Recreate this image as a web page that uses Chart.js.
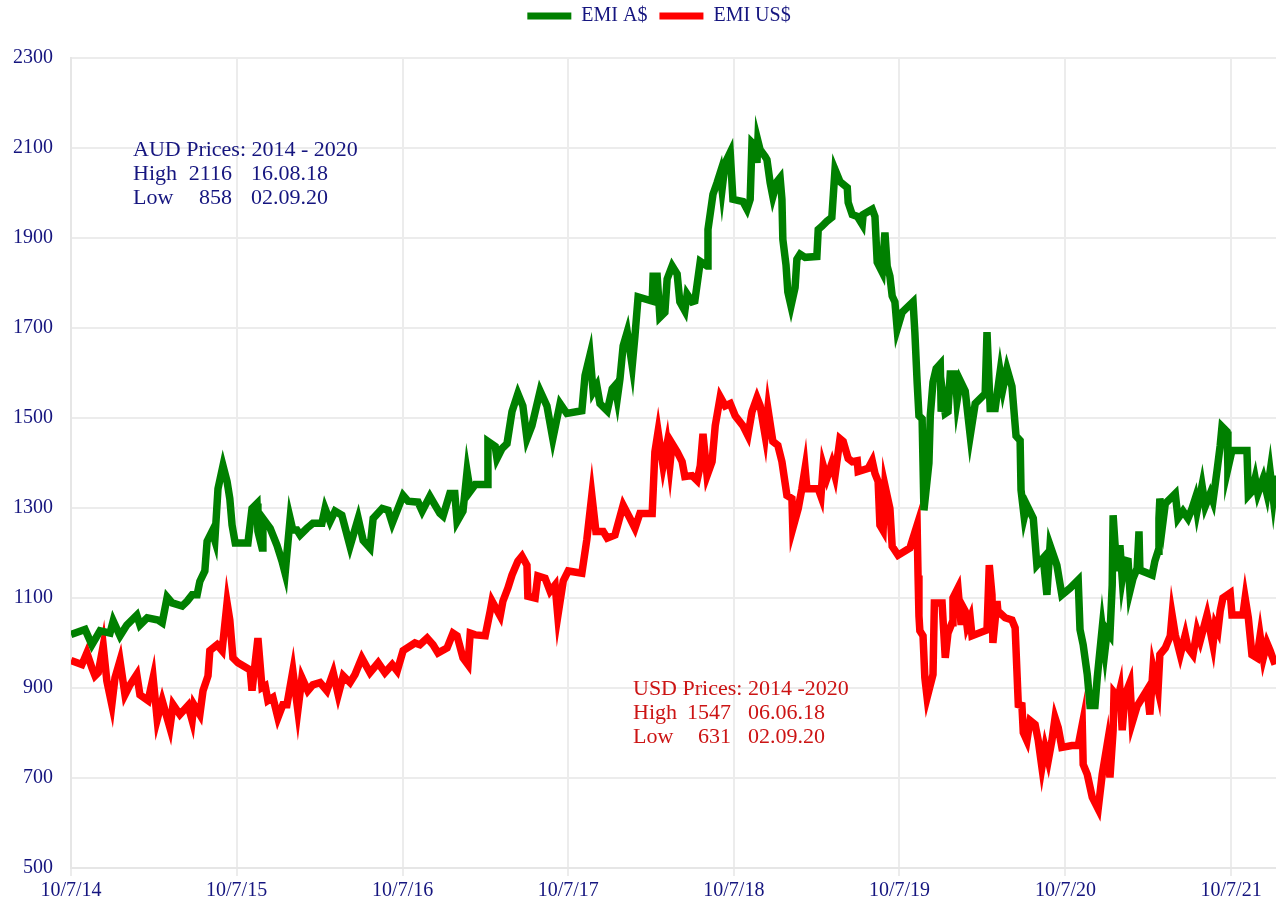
<!DOCTYPE html>
<html>
<head>
<meta charset="utf-8">
<script src="https://cdn.jsdelivr.net/npm/chart.js@4.4.1/dist/chart.umd.min.js"></script>
<style>
html,body{margin:0;padding:0;background:#fff;}
#wrap{width:1276px;height:908px;position:relative;}
</style>
</head>
<body>
<div id="wrap"><canvas id="c"></canvas></div>
<script>
// x values: days since 10 July 2014
const tickDays = [0, 365, 731, 1096, 1461, 1826, 2192, 2557];
const tickLabels = ['10/7/14', '10/7/15', '10/7/16', '10/7/17', '10/7/18', '10/7/19', '10/7/20', '10/7/21'];
const lastDay = 2656;

const audDays = [0,31,46,64,86,93,108,123,145,152,168,192,201,212,223,245,256,267,278,284,295,300,311,317,324,335,344,350,355,362,390,399,410,412,421,423,439,454,465,472,483,489,498,505,520,533,553,560,571,582,597,615,633,644,659,666,686,699,708,732,743,765,774,791,813,820,835,846,851,864,873,880,891,917,919,935,939,950,961,972,985,996,1005,1016,1034,1049,1062,1078,1093,1126,1133,1144,1151,1159,1166,1182,1193,1199,1204,1210,1217,1226,1237,1243,1250,1281,1283,1292,1298,1309,1314,1325,1336,1342,1353,1358,1369,1375,1387,1402,1404,1415,1424,1431,1435,1442,1453,1459,1481,1490,1497,1501,1508,1512,1514,1519,1530,1534,1541,1547,1556,1563,1567,1569,1576,1580,1587,1596,1600,1607,1618,1644,1647,1655,1666,1677,1684,1695,1711,1713,1722,1733,1744,1746,1766,1772,1777,1788,1794,1799,1805,1810,1816,1821,1832,1856,1860,1865,1869,1876,1880,1891,1894,1900,1907,1916,1918,1922,1927,1933,1938,1949,1953,1960,1971,1982,1993,2015,2019,2026,2037,2048,2054,2063,2074,2083,2092,2094,2101,2107,2121,2129,2143,2151,2158,2173,2184,2202,2220,2224,2231,2240,2246,2257,2262,2273,2279,2284,2290,2295,2297,2301,2306,2312,2317,2323,2330,2334,2341,2350,2354,2356,2383,2389,2396,2398,2400,2407,2412,2423,2434,2440,2451,2462,2471,2478,2482,2493,2500,2511,2517,2526,2533,2537,2548,2550,2559,2592,2595,2603,2610,2616,2628,2636,2643,2650,2656];
const audPrices = [1019,1030,996,1027,1022,1049,1016,1040,1062,1040,1056,1051,1045,1102,1089,1082,1093,1107,1107,1137,1160,1226,1248,1228,1343,1394,1359,1321,1262,1222,1222,1299,1310,1248,1211,1277,1255,1217,1182,1155,1277,1251,1251,1240,1255,1266,1266,1299,1270,1293,1284,1215,1277,1228,1211,1277,1299,1295,1266,1328,1315,1313,1293,1326,1288,1282,1332,1332,1270,1293,1381,1337,1352,1352,1448,1437,1410,1432,1443,1514,1554,1527,1454,1483,1560,1527,1454,1532,1510,1516,1594,1640,1558,1572,1532,1516,1565,1572,1543,1587,1660,1691,1616,1682,1769,1760,1815,1815,1724,1735,1809,1838,1820,1758,1738,1775,1758,1760,1848,1838,1919,1997,2023,2045,2008,2067,2090,1986,1981,1964,1986,2112,2105,2067,2116,2096,2081,2074,2023,1992,2025,2034,1986,1897,1840,1780,1749,1790,1853,1864,1857,1859,1919,1926,1937,1946,2052,2025,2012,1979,1952,1948,1930,1952,1964,1948,1846,1824,1912,1837,1815,1771,1758,1698,1735,1758,1690,1580,1505,1498,1295,1400,1505,1580,1610,1620,1514,1549,1510,1514,1598,1598,1538,1583,1560,1461,1532,1554,1691,1521,1521,1603,1565,1609,1570,1460,1450,1340,1280,1306,1277,1173,1189,1107,1217,1173,1107,1122,1140,1030,996,930,861,861,923,1034,983,1027,1018,1129,1284,1222,1160,1217,1144,1184,1182,1115,1144,1166,1248,1162,1151,1182,1204,1277,1321,1270,1310,1321,1332,1277,1293,1277,1299,1321,1293,1350,1304,1332,1315,1383,1439,1481,1470,1388,1428,1428,1328,1337,1366,1332,1366,1332,1381,1321,1372];

const usdDays = [0,24,35,46,53,60,71,79,90,97,108,119,130,145,152,170,181,190,201,218,225,240,258,267,271,284,291,302,306,322,333,344,350,357,368,395,399,412,421,428,434,445,456,467,476,489,500,509,522,533,549,564,578,589,600,615,626,641,659,677,692,708,719,732,758,769,785,798,809,829,842,851,864,875,880,891,913,924,928,946,952,963,972,985,994,1005,1007,1023,1029,1045,1056,1067,1073,1085,1096,1126,1137,1148,1157,1173,1182,1199,1217,1232,1243,1254,1281,1287,1294,1305,1314,1320,1325,1336,1347,1353,1369,1380,1387,1393,1402,1413,1420,1431,1442,1453,1464,1481,1492,1501,1512,1519,1530,1536,1547,1558,1567,1578,1589,1591,1603,1611,1618,1622,1647,1653,1658,1666,1677,1684,1695,1702,1713,1722,1733,1735,1757,1766,1772,1779,1783,1790,1794,1805,1810,1823,1849,1865,1867,1869,1871,1878,1882,1887,1900,1903,1920,1927,1933,1942,1944,1955,1962,1964,1971,1975,1982,1986,2019,2024,2030,2032,2041,2043,2059,2074,2081,2088,2096,2099,2107,2114,2125,2132,2140,2147,2154,2162,2169,2176,2184,2206,2220,2229,2231,2240,2251,2264,2273,2284,2290,2297,2299,2308,2312,2317,2323,2334,2339,2350,2372,2378,2385,2396,2400,2412,2423,2427,2434,2445,2456,2462,2473,2482,2489,2504,2511,2517,2522,2528,2533,2539,2555,2559,2583,2588,2595,2603,2614,2621,2628,2636,2643,2654];
const usdPrices = [961,952,978,945,927,934,994,916,863,923,961,885,907,930,885,872,923,830,872,812,863,841,861,828,863,841,894,927,983,996,983,1089,1051,967,956,940,894,1011,901,905,872,879,834,863,863,938,850,923,894,907,912,894,934,885,927,912,930,967,934,956,934,952,938,983,1000,996,1011,996,978,989,1022,1016,967,952,1022,1018,1016,1071,1093,1060,1093,1122,1151,1182,1193,1173,1104,1100,1149,1144,1115,1129,1060,1138,1160,1155,1230,1328,1248,1248,1233,1240,1306,1277,1255,1288,1288,1425,1470,1394,1443,1394,1443,1425,1403,1370,1372,1361,1394,1465,1372,1403,1483,1547,1527,1532,1505,1483,1461,1514,1545,1527,1461,1521,1448,1439,1403,1328,1321,1255,1299,1343,1388,1343,1343,1326,1394,1366,1399,1372,1454,1448,1410,1403,1405,1381,1388,1405,1377,1359,1262,1250,1350,1299,1215,1195,1211,1262,1150,1060,1027,1016,923,879,930,1089,1089,967,1022,1045,1100,1122,1040,1084,1071,1038,1056,1016,1029,1173,1107,1000,1093,1071,1056,1051,1034,863,861,801,783,828,819,783,724,768,739,783,834,812,768,772,772,819,730,708,657,631,708,775,701,806,890,879,896,806,883,912,823,860,896,841,945,896,974,989,1016,1062,1018,974,1018,989,974,1027,1005,1062,1027,996,1040,1027,1071,1100,1111,1062,1062,1100,1056,974,967,1016,967,1000,983,952];

const seriesNames = ['EMI A$', 'EMI US$'];
const audNote = ['AUD Prices: 2014 - 2020', ['High', '2116', '16.08.18'], ['Low', '858', '02.09.20']];
const usdNote = ['USD Prices: 2014 -2020', ['High', '1547', '06.06.18'], ['Low', '631', '02.09.20']];

const NAVY = '#15157f';
const FONT = "'Liberation Serif', 'Times New Roman', serif";

function drawNote(ctx, note, color, x0, y0, numRight, dateLeft, lh) {
  ctx.fillStyle = color;
  ctx.textAlign = 'left';
  ctx.fillText(note[0], x0, y0);
  for (let r = 1; r < note.length; r++) {
    const y = y0 + lh * r;
    ctx.textAlign = 'left';
    ctx.fillText(note[r][0], x0, y);
    ctx.textAlign = 'right';
    ctx.fillText(note[r][1], numRight, y);
    ctx.textAlign = 'left';
    ctx.fillText(note[r][2], dateLeft, y);
  }
}

const notesPlugin = {
  id: 'notes',
  afterLayout(chart) {
    // centre the legend over the same span as the original chart
    chart.legend.left = 42;
  },
  afterDraw(chart) {
    const ctx = chart.ctx;
    ctx.save();
    ctx.font = '22px ' + FONT;
    ctx.textBaseline = 'alphabetic';
    drawNote(ctx, audNote, NAVY, 133, 156, 232, 251, 24);
    drawNote(ctx, usdNote, '#cc1414', 633, 695, 731, 748, 24);
    ctx.restore();
  }
};

new Chart(document.getElementById('c'), {
  type: 'line',
  data: {
    datasets: [
      {
        label: seriesNames[0],
        data: audDays.map((d, i) => ({ x: d, y: audPrices[i] })),
        borderColor: '#008000',
        backgroundColor: '#008000',
        borderWidth: 7.5,
        pointRadius: 0,
        tension: 0
      },
      {
        label: seriesNames[1],
        data: usdDays.map((d, i) => ({ x: d, y: usdPrices[i] })),
        borderColor: '#ff0000',
        backgroundColor: '#ff0000',
        borderWidth: 7.5,
        pointRadius: 0,
        tension: 0
      }
    ]
  },
  options: {
    responsive: true,
    maintainAspectRatio: false,
    animation: false,
    layout: { padding: { top: -6, left: 0, right: 0, bottom: 2 } },
    plugins: {
      tooltip: { enabled: false },
      legend: {
        position: 'top',
        labels: {
          font: { family: FONT, size: 20 },
          color: NAVY,
          boxWidth: 44,
          boxHeight: 7,
          padding: 12,
          generateLabels(chart) {
            return chart.data.datasets.map((ds, i) => ({
              text: ds.label,
              fillStyle: ds.borderColor,
              strokeStyle: ds.borderColor,
              lineWidth: 0,
              hidden: false,
              datasetIndex: i,
              fontColor: NAVY
            }));
          }
        }
      }
    },
    scales: {
      x: {
        type: 'linear',
        min: 0,
        max: lastDay,
        afterBuildTicks(s) { s.ticks = tickDays.map(v => ({ value: v })); },
        ticks: {
          autoSkip: false,
          maxRotation: 0,
          callback: (v, i) => tickLabels[i],
          color: NAVY,
          font: { family: FONT, size: 20 },
          padding: 3
        },
        grid: { color: '#ececec', lineWidth: 2, tickLength: 8 },
        border: { color: '#e6e6e6', width: 2 }
      },
      xTop: {
        type: 'linear',
        position: 'top',
        ticks: { display: false },
        grid: { display: false },
        border: { display: false },
        afterFit(s) { s.height = 22; }
      },
      y: {
        min: 500,
        max: 2300,
        afterFit(s) { s.width = 71; },
        ticks: {
          stepSize: 200,
          callback: v => String(v),
          color: NAVY,
          font: { family: FONT, size: 20 },
          padding: 18
        },
        grid: { color: '#ececec', lineWidth: 2, drawTicks: false },
        border: { color: '#e6e6e6', width: 2 }
      }
    }
  },
  plugins: [notesPlugin]
});
</script>
</body>
</html>
